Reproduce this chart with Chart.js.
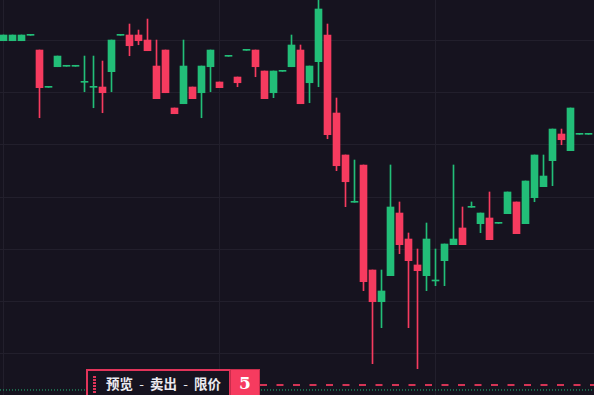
<!DOCTYPE html>
<html>
<head>
<meta charset="utf-8">
<script src="https://cdn.jsdelivr.net/npm/chart.js@4/dist/chart.umd.min.js"></script>
<style>
  html, body { margin:0; padding:0; background:#16131f; overflow:hidden; }
  #wrap { position:relative; width:594px; height:395px; overflow:hidden; }
  #chartCanvas { position:absolute; left:0; top:0; }
  #orderTag { position:absolute; left:86px; top:369px; width:144px; height:30px; box-sizing:border-box;
    border:2px solid #e2345a; border-right-width:1px; background:#16131f; }
  #grip { position:absolute; left:5px; top:5px; width:3px; height:17px;
    background:repeating-linear-gradient(to bottom, #e2345a 0 2px, transparent 2px 3px); }
  #tagText { position:absolute; left:18px; top:2px; color:#eceaf0; font:bold 13.5px "Noto Sans CJK SC", sans-serif; white-space:nowrap; }
  #tagText span { display:inline-block; }
  #tagText .sep { width:17px; text-align:center; font-weight:normal; }
  #qtyBox { position:absolute; left:230px; top:369px; width:30px; height:30px; box-sizing:border-box;
    background:#f63b5f; border:1px solid #c92d4c; color:#fff; font:bold 17px "DejaVu Serif", serif; text-align:center; line-height:27px; }
</style>
</head>
<body>
<div id="wrap">
  <canvas id="chartCanvas" width="594" height="395"></canvas>
  <div id="orderTag"><div id="grip"></div><div id="tagText"><span>预览</span><span class="sep">-</span><span>卖出</span><span class="sep">-</span><span>限价</span></div></div>
  <div id="qtyBox">5</div>
</div>
<script>
// ---------- DATA (one candle per minute) ----------
const opens  = [159.87,159.87,159.87,160.90,158.09,150.96,154.90,154.98,154.98,151.92,150.96,151.02,153.95,160.90,160.96,160.96,160.00,155.03,158.09,147.01,147.83,151.02,149.93,154.90,151.98,156.89,152.93,158.03,158.09,154.08,149.93,154.02,154.90,158.09,151.84,155.86,160.96,146.05,138.03,128.99,136.12,116.05,109.99,114.96,126.94,121.97,117.01,114.96,113.95,117.83,120.89,124.08,128.03,124.90,125.99,124.97,126.81,129.05,124.90,129.87,131.97,136.94,142.04,138.85,141.98,141.98];
const highs  = [160.96,160.96,160.96,160.90,158.09,150.96,156.94,154.98,154.98,156.94,156.94,155.99,160.00,160.90,163.06,161.91,164.01,160.00,158.09,147.01,160.00,151.02,155.03,158.09,151.98,156.89,152.93,158.03,158.09,154.08,154.08,154.02,160.96,159.05,155.03,168.20,163.06,148.92,138.03,137.07,136.12,116.05,116.05,136.12,129.05,123.12,120.06,125.03,120.06,121.02,136.12,128.09,129.05,126.94,130.96,124.97,130.96,129.05,133.06,138.03,138.03,142.99,142.99,147.01,141.98,141.98];
const lows   = [159.87,159.87,159.87,160.90,145.15,150.96,154.90,154.98,154.98,150.12,147.06,146.11,150.12,160.90,157.00,159.10,157.96,148.79,149.93,145.92,147.83,148.79,145.15,150.12,150.89,156.89,151.08,158.03,152.99,148.79,148.98,154.02,154.90,147.83,148.02,151.08,141.14,135.03,128.15,128.99,112.10,98.15,105.03,114.96,119.17,105.03,97.19,112.10,113.05,113.05,120.89,120.89,128.03,123.18,121.84,124.97,126.81,122.99,124.90,129.10,131.97,132.16,139.99,138.85,141.98,141.98];
const closes = [160.96,160.96,160.96,160.90,150.89,150.96,156.94,154.98,154.98,151.92,150.96,149.93,160.00,160.90,158.91,159.87,157.96,148.79,149.93,145.92,155.03,148.79,155.03,158.09,150.89,156.89,151.84,158.03,154.90,148.79,154.08,154.02,159.05,147.83,155.03,165.93,141.91,135.98,132.92,128.99,113.82,109.99,112.04,128.09,120.89,117.83,115.92,121.97,113.95,121.02,121.97,120.89,128.03,126.94,121.84,124.97,130.96,122.99,133.06,138.03,134.01,142.99,140.95,147.01,141.98,141.98];

const markPrice = 93.12;     // green dotted line
const orderPrice = 94.08;    // red dashed limit-order line
const orderLineFrom = 28.5;  // order line starts right of the tag

const priceGrid = [100,110,120,130,140,150,160];
const timeGrid = [0,24,48];

const UP = "#22be78", DOWN = "#f63b5f";

// ---------- build datasets ----------
const n = opens.length;
const bodies = [], wicks = [], colors = [];
for(let i=0;i<n;i++){
  bodies.push({ x:i, y:[opens[i], closes[i]] });
  wicks.push({ x:i, y:[lows[i], highs[i]] });
  colors.push(closes[i] >= opens[i] ? UP : DOWN);
}

const chart = new Chart(document.getElementById("chartCanvas"), {
  type: "bar",
  data: {
    datasets: [
      { label:"body", data:bodies, backgroundColor:colors, barThickness:7, minBarLength:1, borderWidth:0, order:1 },
      { label:"wick", data:wicks, backgroundColor:colors, barThickness:1, minBarLength:1, borderWidth:0, order:2 },
      { type:"line", label:"mark", data:[{x:-0.39,y:markPrice},{x:65.61,y:markPrice}], borderColor:UP, borderWidth:1, borderDash:[1,2], pointRadius:0, order:3 },
      { type:"line", label:"order", data:[{x:orderLineFrom,y:orderPrice},{x:65.61,y:orderPrice}], borderColor:"rgba(246,59,95,0.85)", borderWidth:2, borderDash:[7,9.5], pointRadius:0, order:3 }
    ]
  },
  options: {
    responsive:false,
    devicePixelRatio:1,
    animation:false,
    grouped:false,
    layout:{ padding:0 },
    plugins:{ legend:{ display:false }, tooltip:{ enabled:false } },
    scales:{
      x:{
        type:"linear", min:-0.3889, max:65.6111, offset:false,
        afterBuildTicks: s => { s.ticks = timeGrid.map(v=>({value:v})); },
        ticks:{ display:false },
        grid:{ color:"#221f2c", drawTicks:false, offset:false },
        border:{ display:false }
      },
      y:{
        min:92.16, max:167.65,
        afterBuildTicks: s => { s.ticks = priceGrid.map(v=>({value:v})); },
        ticks:{ display:false },
        grid:{ color:"#221f2c", drawTicks:false },
        border:{ display:false }
      }
    }
  }
});
</script>
</body>
</html>
